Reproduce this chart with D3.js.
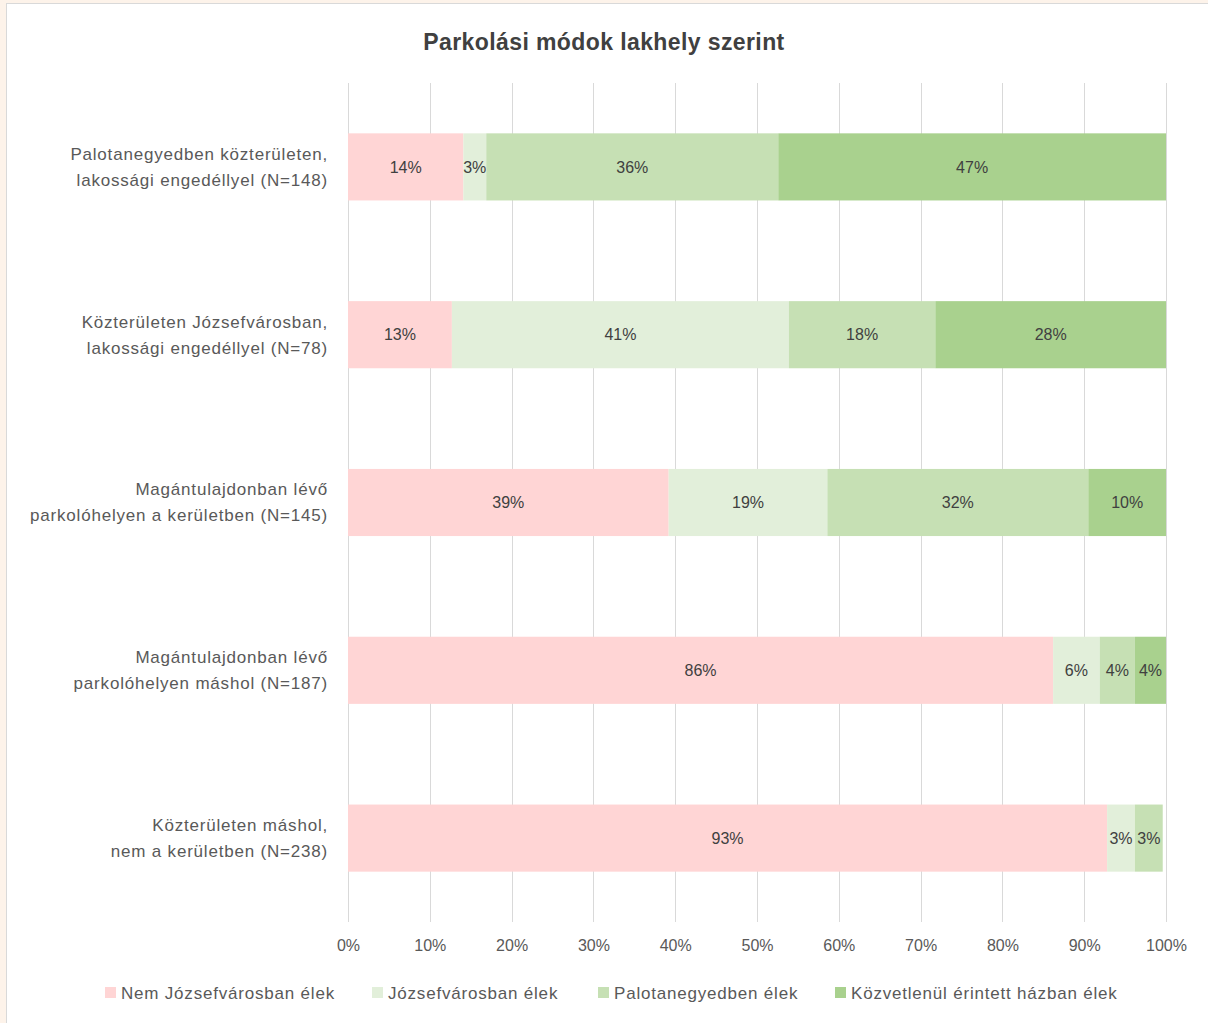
<!DOCTYPE html>
<html lang="hu">
<head>
<meta charset="UTF-8">
<title>Parkolási módok lakhely szerint</title>
<style>
  html, body { margin: 0; padding: 0; background: #fdf3ea; }
  svg { display: block; font-family: "Liberation Sans", Arial, sans-serif; }
</style>
</head>
<body>
<div id="chart"></div>
<script src="https://d3js.org/d3.v7.min.js"></script>
<script>
// kategóriák (sorok), két soros címkékkel
const categories = [
  "Palotanegyedben közterületen,|lakossági engedéllyel (N=148)",
  "Közterületen Józsefvárosban,|lakossági engedéllyel (N=78)",
  "Magántulajdonban lévő|parkolóhelyen a kerületben (N=145)",
  "Magántulajdonban lévő|parkolóhelyen máshol (N=187)",
  "Közterületen máshol,|nem a kerületben (N=238)"
];

const seriesNames = [
  "Nem Józsefvárosban élek",
  "Józsefvárosban élek",
  "Palotanegyedben élek",
  "Közvetlenül érintett házban élek"
];

// értékek (%), soronként a fenti kategóriák sorrendjében
const nemJozsefvaros = [14.1, 12.7, 39.2, 86.2, 92.8];
const jozsefvaros    = [2.8, 41.2, 19.4, 5.7, 3.4];
const palotanegyed   = [35.7, 17.9, 31.9, 4.3, 3.4];
const kozvetlenul    = [47.4, 28.2, 9.5, 3.8, 0];

const labelNem   = ["14%", "13%", "39%", "86%", "93%"];
const labelJozs  = ["3%", "41%", "19%", "6%", "3%"];
const labelPalo  = ["36%", "18%", "32%", "4%", "3%"];
const labelKozv  = ["47%", "28%", "10%", "4%", ""];

const tickValues = [0, 10, 20, 30, 40, 50, 60, 70, 80, 90, 100];

const colors = ["#ffd5d5", "#e2efda", "#c6e0b4", "#a9d18e"];
const textColor = "#595959";

const width = 1208, height = 1023;
const margin = { left: 348, right: 42, top: 83, bottom: 101 };

const svg = d3.select("#chart").append("svg")
  .attr("width", width).attr("height", height);

// keret
svg.append("rect").attr("x", 0).attr("y", 0).attr("width", width).attr("height", height).attr("fill", "#fdf3ea");
svg.append("rect").attr("x", 6.5).attr("y", 3.5).attr("width", width).attr("height", height)
  .attr("fill", "#ffffff").attr("stroke", "#d9d9d9").attr("stroke-width", 1);

svg.append("text")
  .attr("x", 604).attr("y", 50)
  .attr("text-anchor", "middle")
  .attr("font-size", "23px").attr("font-weight", "bold")
  .attr("letter-spacing", "0.4px")
  .attr("fill", "#404040")
  .text("Parkolási módok lakhely szerint");

const x = d3.scaleLinear().domain([0, 100]).range([margin.left, width - margin.right]);
const y = d3.scaleBand().domain(categories)
  .range([margin.top, height - margin.bottom])
  .paddingInner(0.6).paddingOuter(0.3);

// rácsvonalak
svg.append("g").selectAll("line")
  .data(tickValues).enter().append("line")
  .attr("x1", d => Math.round(x(d)) + 0.5).attr("x2", d => Math.round(x(d)) + 0.5)
  .attr("y1", margin.top).attr("y2", height - margin.bottom)
  .attr("stroke", "#d9d9d9").attr("stroke-width", 1);

// tengely feliratok
const xAxis = d3.axisBottom(x).tickValues(tickValues).tickFormat(d => d + "%").tickSize(0).tickPadding(14);
const gx = svg.append("g").attr("transform", `translate(0,${height - margin.bottom + 4})`).call(xAxis);
gx.select(".domain").remove();
gx.selectAll("text").attr("font-size", "16px").attr("fill", textColor)
  .attr("font-family", "Liberation Sans, Arial, sans-serif");

// halmozott adatok
const rows = categories.map((c, i) => ({
  cat: c,
  vals: [nemJozsefvaros[i], jozsefvaros[i], palotanegyed[i], kozvetlenul[i]],
  labels: [labelNem[i], labelJozs[i], labelPalo[i], labelKozv[i]]
}));

rows.forEach(r => {
  let acc = 0;
  r.vals.forEach((v, k) => {
    const x0 = x(acc), x1 = x(acc + v);
    acc += v;
    if (v <= 0) return;
    svg.append("rect")
      .attr("x", x0).attr("y", y(r.cat))
      .attr("width", x1 - x0).attr("height", y.bandwidth())
      .attr("fill", colors[k]);
    svg.append("text")
      .attr("x", (x0 + x1) / 2).attr("y", y(r.cat) + y.bandwidth() / 2)
      .attr("dy", "0.35em").attr("text-anchor", "middle")
      .attr("font-size", "16px").attr("fill", "#404040")
      .text(r.labels[k]);
  });
});

// kategória címkék
categories.forEach(c => {
  const lines = c.split("|");
  const cy = y(c) + y.bandwidth() / 2;
  const t = svg.append("text")
    .attr("text-anchor", "end").attr("font-size", "17px")
    .attr("letter-spacing", "0.8px").attr("fill", textColor);
  lines.forEach((l, i) => {
    t.append("tspan")
      .attr("x", 328)
      .attr("y", cy + (i - (lines.length - 1) / 2) * 26)
      .attr("dy", "0.35em")
      .text(l);
  });
});

// jelmagyarázat
const legendX = [105, 372, 598, 835];
const legend = svg.append("g");
seriesNames.forEach((n, i) => {
  legend.append("rect")
    .attr("x", legendX[i]).attr("y", 987).attr("width", 11).attr("height", 11)
    .attr("fill", colors[i]);
  legend.append("text")
    .attr("x", legendX[i] + 16).attr("y", 993).attr("dy", "0.35em")
    .attr("font-size", "17px").attr("letter-spacing", "0.8px").attr("fill", textColor)
    .text(n);
});
</script>
</body>
</html>
